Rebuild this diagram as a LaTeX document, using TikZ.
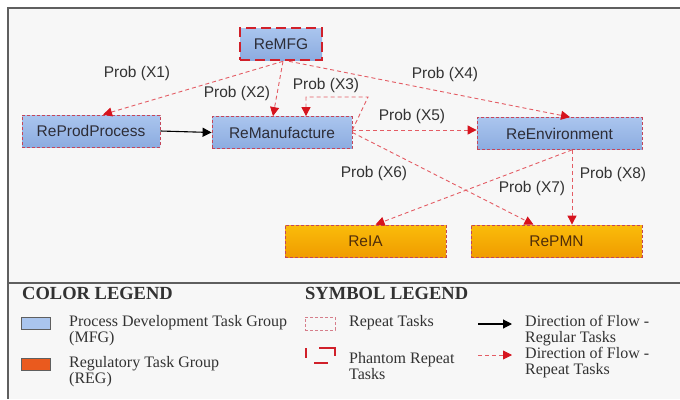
\documentclass[tikz,border=0pt]{standalone}
\usepackage{fontspec}
\setmainfont{Liberation Serif}
\newfontfamily\arialf{Liberation Sans}
\usetikzlibrary{arrows.meta}
\definecolor{bluefill}{RGB}{170,197,238}
\definecolor{bluefill2}{RGB}{140,172,224}
\definecolor{orgtop}{RGB}{250,188,10}
\definecolor{orgbot}{RGB}{240,156,0}
\definecolor{boxred}{RGB}{196,70,90}
\definecolor{arrred}{RGB}{228,92,100}
\definecolor{headred}{RGB}{214,20,30}
\definecolor{phred}{RGB}{208,32,42}
\definecolor{regorange}{RGB}{234,90,30}
\definecolor{framegray}{RGB}{95,95,95}
\definecolor{bg}{RGB}{247,247,247}
\definecolor{txt}{RGB}{45,45,55}
\definecolor{regtxt}{RGB}{80,45,10}
\definecolor{legtxt}{RGB}{50,50,50}
\begin{document}
\begin{tikzpicture}[x=1pt,y=-1pt,
  task/.style={draw=boxred, dash pattern=on 3pt off 2pt, line width=0.8pt, inner sep=0pt,
    minimum height=32pt, font=\arialf\fontsize{15.5}{18}\selectfont, text=txt},
  mfgtask/.style={task, top color=bluefill, bottom color=bluefill2},
  regtask/.style={task, top color=orgtop, bottom color=orgbot, text=regtxt},
  phantom/.style={draw=phred, line width=2.6pt, dash pattern=on 10pt off 5pt},
  rep/.style={draw=arrred, line width=0.9pt, dash pattern=on 4pt off 3pt,
    -{Triangle[length=9pt,width=9pt,color=headred]}},
  reg/.style={draw=black, line width=1.1pt, -{Triangle[length=9pt,width=9pt]}},
  prob/.style={font=\arialf\fontsize{15.5}{18}\selectfont, text=legtxt, inner sep=0pt},
  leghead/.style={font=\fontsize{18.5}{20}\selectfont\bfseries, text=legtxt, inner sep=0pt, anchor=west},
  legtext/.style={font=\fontsize{16}{16}\selectfont, text=legtxt, inner sep=0pt, anchor=west, align=left},
]
\useasboundingbox (0,0) rectangle (680,399);
\fill[white] (0,0) rectangle (680,399);
\fill[bg] (8,8) rectangle (680,399);
\draw[framegray, line width=1.4pt] (680,8) -- (8,8) -- (8,399);
\draw[framegray, line width=1.4pt] (8,283) -- (680,283);

% nodes
\node[mfgtask, phantom, minimum width=82pt] (mfg) at (281,44) {ReMFG};
\node[mfgtask, minimum width=138pt] (prod) at (91,131) {ReProdProcess};
\node[mfgtask, minimum width=140pt] (manu) at (282,132.5) {ReManufacture};
\node[mfgtask, minimum width=165pt] (env) at (559.5,133.5) {ReEnvironment};
\node[regtask, minimum width=161pt] (ria) at (365.5,241) {ReIA};
\node[regtask, minimum width=171pt] (pmn) at (556.5,241) {RePMN};

% connectors
\draw[reg] (prod.east) -- (manu.west);
\draw[rep] ([xshift=2pt]mfg.south) -- ([xshift=12pt]prod.north);
\draw[rep] ([xshift=2pt]mfg.south) -- ([xshift=-9pt]manu.north);
\coordinate (loopa) at (368,97);
\coordinate (loopt) at ([xshift=24pt]manu.north);
\draw[rep] ([yshift=2.5pt]manu.east) -- (loopa) -- (loopa -| loopt) -- (loopt);
\draw[rep] ([xshift=8pt]mfg.south) -- ([xshift=10.5pt]env.north);
\draw[rep] ([yshift=2.5pt]manu.east) -- ([yshift=3.5pt]env.west);
\draw[rep] (manu.east) -- ([xshift=-23pt]pmn.north);
\draw[rep] ([xshift=12.5pt]env.south) -- ([xshift=10pt]ria.north);
\draw[rep] ([xshift=12.5pt]env.south) -- ([xshift=15.5pt]pmn.north);

% labels
\node[prob] (p1) at (137,73) {Prob (X1)};
\node[prob] (p2) at (237,93) {Prob (X2)};
\node[prob] (p3) at (326,85) {Prob (X3)};
\node[prob] (p4) at (445,74) {Prob (X4)};
\node[prob] (p5) at (412,116) {Prob (X5)};
\node[prob] (p6) at (374,173) {Prob (X6)};
\node[prob] (p7) at (532,188) {Prob (X7)};
\node[prob] (p8) at (613,174) {Prob (X8)};

% legend
\node[leghead] (clh) at (22,293) {COLOR LEGEND};
\node[leghead] (slh) at (305,293) {SYMBOL LEGEND};
\node[draw=framegray, line width=0.8pt, fill=bluefill, minimum width=29pt, minimum height=12pt, inner sep=0pt] (sw1) at (35.5,323) {};
\node[draw=framegray, line width=0.8pt, fill=regorange, minimum width=29pt, minimum height=12pt, inner sep=0pt] (sw2) at (35.5,364) {};
\node[legtext] (t1) at (69,331) {Process Development Task Group\\(MFG)};
\node[legtext] (t3) at (69,372) {Regulatory Task Group\\(REG)};

\node[draw=boxred!70, line width=0.6pt, dash pattern=on 3pt off 2pt, minimum width=30pt, minimum height=13pt, inner sep=0pt] (sym1) at (320,323.5) {};
\draw[phred, line width=2.6pt] (306,348) -- (306,358);
\draw[phred, line width=2.6pt] (319,348) -- (335,348) -- (335,356);
\draw[phred, line width=2.6pt] (314,363) -- (328,363);
\node[legtext] (t5) at (349,323) {Repeat Tasks};
\node[legtext] (t6) at (349,366) {Phantom Repeat\\Tasks};

\coordinate (a1s) at (478,324);
\coordinate (a1e) at (512,324);
\coordinate (a2s) at (478,355);
\coordinate (a2e) at (512,355);
\draw[reg] (a1s) -- (a1e);
\draw[rep] (a2s) -- (a2e);
\node[legtext] (t8) at (525,347) {Direction of Flow -\\Regular Tasks\\Direction of Flow -\\Repeat Tasks};
\end{tikzpicture}
\end{document}
